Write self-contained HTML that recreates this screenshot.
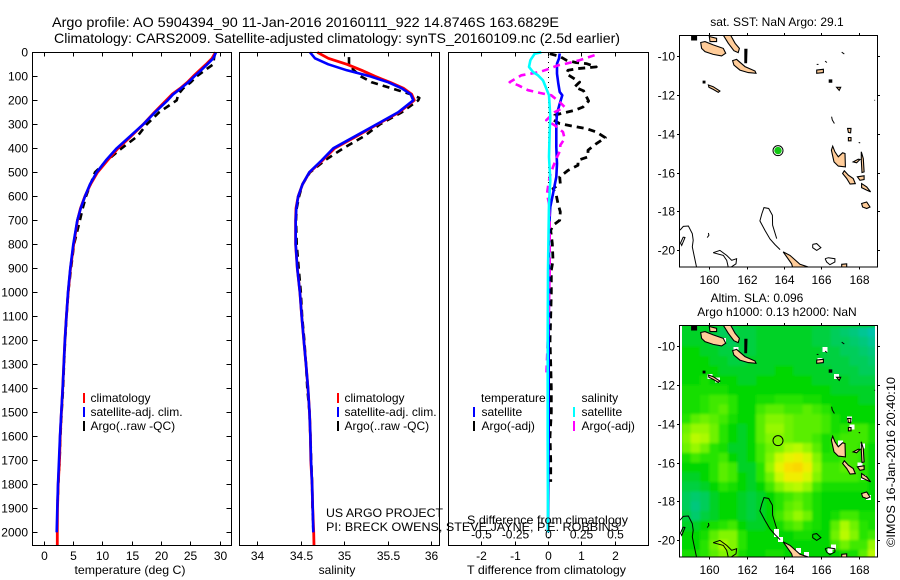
<!DOCTYPE html>
<html>
<head>
<meta charset="utf-8">
<title>Argo profile</title>
<style>
html,body{margin:0;padding:0;background:#fff;}
svg{display:block;}
text{font-family:"Liberation Sans",sans-serif;fill:#000;font-size:12px;}
.t{font-size:14px;}
.c{text-anchor:middle;}
.r{text-anchor:end;}
</style>
</head>
<body>
<svg id="chart" width="900" height="580" viewBox="0 0 900 580" xmlns="http://www.w3.org/2000/svg">
<defs>
<clipPath id="m1"><rect x="679.5" y="35.5" width="198" height="231.5"/></clipPath>
<clipPath id="m2"><rect x="679.5" y="325.5" width="198" height="231.5"/></clipPath>
<clipPath id="h2"><rect x="682" y="325.5" width="193" height="231.5"/></clipPath>
<filter id="soft" x="-5%" y="-5%" width="110%" height="110%"><feGaussianBlur stdDeviation="1.3"/></filter>
</defs>
<rect width="900" height="580" fill="#fff"/>
<text class="t" x="52" y="27" textLength="507" lengthAdjust="spacingAndGlyphs">Argo profile: AO 5904394_90 11-Jan-2016 20160111_922 14.8746S 163.6829E</text>
<text class="t" x="54" y="43" textLength="566" lengthAdjust="spacingAndGlyphs">Climatology: CARS2009. Satellite-adjusted climatology: synTS_20160109.nc (2.5d earlier)</text>

<g id="heat"></g>
<g id="lines"></g>
<g id="maps"></g>
<g id="axes"></g>

<text class="c" x="130" y="574" textLength="111" lengthAdjust="spacingAndGlyphs">temperature (deg C)</text>
<text class="c" x="337" y="574">salinity</text>
<text x="467" y="574" textLength="159" lengthAdjust="spacingAndGlyphs">T difference from climatology</text>
<text x="467" y="524" textLength="161" lengthAdjust="spacingAndGlyphs">S difference from climatology</text>
<text x="326" y="517" textLength="117" lengthAdjust="spacingAndGlyphs">US ARGO PROJECT</text>
<text x="326" y="531" textLength="293" lengthAdjust="spacingAndGlyphs">PI: BRECK OWENS, STEVE JAYNE, P.E. ROBBINS</text>

<g>
<rect x="83" y="393" width="2" height="10" fill="#f00"/>
<rect x="83" y="407" width="2" height="10" fill="#00f"/>
<rect x="83" y="421" width="2" height="10" fill="#000"/>
<text x="90.5" y="402">climatology</text>
<text x="90.5" y="416">satellite-adj. clim.</text>
<text x="90.5" y="430">Argo(..raw -QC)</text>
</g>
<g>
<rect x="337" y="393" width="2" height="10" fill="#f00"/>
<rect x="337" y="407" width="2" height="10" fill="#00f"/>
<rect x="337" y="421" width="2" height="10" fill="#000"/>
<text x="344.5" y="402">climatology</text>
<text x="344.5" y="416">satellite-adj. clim.</text>
<text x="344.5" y="430">Argo(..raw -QC)</text>
</g>
<g>
<text x="481" y="402">temperature</text>
<rect x="473" y="407" width="2" height="10" fill="#00f"/>
<rect x="473" y="421" width="2" height="10" fill="#000"/>
<text x="481.5" y="416">satellite</text>
<text x="481.5" y="430">Argo(-adj)</text>
<text x="581.5" y="402">salinity</text>
<rect x="573" y="407" width="2" height="10" fill="#0ff"/>
<rect x="573" y="421" width="2" height="10" fill="#f0f"/>
<text x="581.5" y="416">satellite</text>
<text x="581.5" y="430">Argo(-adj)</text>
</g>

<text class="c" x="777" y="26">sat. SST: NaN Argo: 29.1</text>
<text class="c" x="757" y="302">Altim. SLA: 0.096</text>
<text class="c" x="777" y="316">Argo h1000: 0.13 h2000: NaN</text>
<text transform="translate(895,547) rotate(-90)" textLength="170" lengthAdjust="spacingAndGlyphs">©IMOS 16-Jan-2016 20:40:10</text>

<script>
// ---- profile data ----
const depthsMain = [0,25,50,75,100,125,150,175,200,250,300,350,400,450,500,550,600,650,700,800,900,1000,1100,1200,1300,1400,1500,1600,1700,1800,1900,2000];
const tempSatellite = [29.39,28.93,27.9,26.83,25.7,24.67,23.42,22.1,21.15,19.0,17.0,14.74,12.47,10.65,9.06,7.92,7.07,6.33,5.76,5.08,4.57,4.17,3.9,3.65,3.45,3.27,3.03,2.81,2.64,2.47,2.35,2.25];
const depthsTempClim = [0,25,50,75,100,125,150,175,200,250,300,350,400,450,500,550,600,650,700,800,900,1000,1100,1200,1300,1400,1500,1600,1700,1800,1900,2000,2054];
const tempClimatology = [29.3,28.7,27.7,26.6,25.5,24.5,23.3,21.9,20.9,18.9,17.0,14.9,12.7,10.9,9.2,8.0,7.05,6.3,5.8,5.15,4.6,4.2,3.9,3.65,3.45,3.27,3.05,2.85,2.72,2.5,2.38,2.35,2.35];
const depthsTempArgo = [5,25,50,75,100,125,150,175,200,250,300,350,400,450,500,550,600,650,700,800,900,1000,1100,1200,1300,1400,1500,1600,1700,1800,1870];
const tempArgo = [29.2,29.05,28.93,27.5,26.1,25.07,23.8,22.96,22.7,19.7,17.6,16.0,13.3,10.87,8.77,8.0,7.24,6.68,6.2,5.2,4.68,4.2,3.92,3.68,3.5,3.34,3.08,2.88,2.74,2.52,2.42];

const salSatellite = [34.606,34.663,34.816,35.03,35.295,35.506,35.66,35.763,35.793,35.62,35.372,35.123,34.874,34.74,34.598,34.52,34.47,34.448,34.441,34.441,34.46,34.49,34.51,34.535,34.56,34.583,34.6,34.61,34.617,34.63,34.637,34.644];
const depthsSalClim = [0,25,50,75,100,125,150,175,200,250,300,350,400,450,500,550,600,650,700,800,900,1000,1100,1200,1300,1400,1500,1600,1700,1800,1900,2000,2054];
const salClimatology = [34.69,34.816,35.03,35.2,35.353,35.525,35.68,35.775,35.805,35.63,35.38,35.14,34.89,34.75,34.6,34.52,34.47,34.445,34.44,34.44,34.46,34.49,34.51,34.535,34.56,34.583,34.6,34.61,34.615,34.63,34.637,34.648,34.652];
const depthsSalArgo = [20,50,75,100,125,150,175,190,200,250,300,350,400,450,500,550,600,650,700,800,900,1000,1100,1200,1300,1400,1500,1600,1700,1800,1900,2000];
const salArgo = [35.054,35.054,35.11,35.188,35.315,35.545,35.763,35.862,35.851,35.66,35.41,35.226,34.988,34.778,34.606,34.52,34.48,34.453,34.445,34.453,34.476,34.5,34.515,34.54,34.56,34.575,34.6,34.61,34.62,34.63,34.635,34.645];

const depthsDiffTSat = [5,26,47,89,130,165,179,214,256,297,394,464,519,589,644,742,908,1200,1600,2000];
const diffTSatellite = [0.35,0.33,0.27,0.27,0.31,0.35,0.43,0.35,0.27,0.25,0.25,0.27,0.25,0.15,0.07,0.03,0.03,0.02,0.02,0.0];
const depthsDiffTArgo = [6,17,33,43,47,61,68,75,89,124,144,161,203,228,242,253,262,283,297,308,318,332,356,381,408,436,450,471,492,519,547,568,596,631,665,700,721,742,797,867,908,1000,1100,1200,1300,1400,1500,1600,1700,1790];
const diffTArgo = [0.05,0.35,0.55,0.85,1.15,1.45,0.9,0.6,0.55,0.95,0.8,1.07,1.22,1.05,0.8,0.45,0.2,0.17,0.35,0.75,1.15,1.45,1.72,1.45,1.2,1.2,0.9,0.9,0.6,0.35,0.37,0.15,0.25,0.3,0.37,0.35,0.15,0.08,0.13,0.15,0.1,0.1,0.08,0.06,0.08,0.1,0.1,0.06,0.08,0.08];
const depthsDiffSSat = [0,6,33,61,82,96,117,151,179,269,325,436,533,631,908,1200,1600,2000];
const diffSSatellite = [-0.05,-0.1,-0.1325,-0.1425,-0.1125,-0.075,-0.0375,-0.0125,0.0075,0.0175,0.0125,0.0075,0.0175,0.0075,0,-0.0025,-0.0025,0];
const depthsDiffSArgo = [12,33,47,54,68,82,96,124,137,158,169,179,207,228,249,283,304,332,360,387,408,443,478,519,561,589,631,714,908,1100,1250,1350];
const diffSArgo = [0.35,0.2375,0.1375,0.075,0.0125,-0.0625,-0.2,-0.2875,-0.225,-0.15,-0.0625,0.025,0.0875,0.125,0.05,-0.0125,0.05,0.1125,0.125,0.0925,0.0925,0.0625,0.0375,0.0125,0,-0.0075,0.0075,0.0125,0.0125,0.005,-0.005,-0.0125];

// ---- tick labels ----
const depthTicks = [0,100,200,300,400,500,600,700,800,900,1000,1100,1200,1300,1400,1500,1600,1700,1800,1900,2000];
const tempTicks = [0,5,10,15,20,25,30];
const salTicks = [34,34.5,35,35.5,36];
const diffTTicks = [-2,-1,0,1,2];
const diffSTicks = [-0.5,-0.25,0,0.25,0.5];
const lonTicks = [160,162,164,166,168];
const latTicks = [-10,-12,-14,-16,-18,-20];

// ---- SLA heatmap (cm), rows north to south from 9S in 0.5 deg steps, columns from 158.5E ----
const slaLonStart = 158.5;
const slaLatStart = -9;
const slaStep = 0.5;
const slaRows = [
[2,2,2,1,0,0,1,1,2,2,2,2,2,2,1,1,0,-1,-2,-3,-4],
[2,2,2,1,1,0,1,1,2,2,2,2,2,2,1,1,0,0,-1,-2,-3],
[3,3,2,2,1,1,1,1,2,2,2,2,2,2,2,1,1,0,0,-1,-2],
[3,3,3,2,2,1,1,2,2,2,2,2,2,2,2,1,1,1,0,0,-1],
[3,3,3,3,2,2,2,2,2,2,3,3,2,2,2,2,1,1,1,0,0],
[3,3,4,3,3,3,2,2,3,3,3,3,3,3,2,2,2,2,1,1,1],
[4,4,4,4,4,3,3,3,3,3,3,3,3,3,3,3,2,2,2,2,2],
[4,4,5,6,6,5,3,3,4,4,5,5,5,4,4,3,3,3,3,2,2],
[4,4,5,6,7,5,3,3,6,7,7,6,6,7,6,5,3,3,3,3,3],
[5,7,8,7,6,4,3,3,7,9,9,8,7,7,7,6,4,3,3,3,3],
[8,10,10,8,5,3,2,3,7,10,10,8,7,7,7,6,4,5,6,6,4],
[9,12,11,8,5,3,2,3,7,9,9,8,7,7,6,4,5,6,6,6,4],
[8,10,8,5,4,2,2,3,6,8,9,11,12,10,7,4,5,6,6,5,3],
[4,6,5,5,6,3,2,3,6,9,13,15,16,14,9,5,5,6,6,5,3],
[3,3,3,5,7,6,2,2,5,10,15,18,19,16,10,6,6,7,6,5,3],
[2,2,3,5,7,6,3,2,5,8,13,16,16,14,9,6,6,6,6,5,3],
[1,1,2,3,5,4,3,2,3,6,9,11,12,10,6,4,4,4,4,4,3],
[0,-1,0,2,3,3,2,1,2,3,5,6,7,6,4,3,3,3,3,3,3],
[0,-2,0,2,3,3,2,1,2,3,5,7,8,6,4,3,3,3,3,3,3],
[1,-1,1,2,3,3,2,1,2,3,6,8,10,8,4,3,4,6,6,4,4],
[2,2,3,4,5,6,3,2,2,3,4,6,7,5,4,3,7,11,8,5,4],
[3,3,4,7,9,9,5,3,3,3,3,3,4,4,3,3,8,12,9,5,6],
[3,3,5,8,11,9,5,3,3,3,3,3,3,3,3,3,6,8,6,6,10],
[4,4,5,7,9,8,4,3,3,4,4,3,3,3,3,3,3,4,4,7,12]
];
const slaLevels = [-4,-2,0,2,3,5,7,9,11,13,15,17,19];
const slaColours = [[0,195,170],[0,200,125],[0,205,90],[0,210,40],[0,215,0],[40,228,0],[90,238,0],[130,245,0],[170,250,0],[200,250,0],[230,245,0],[250,230,0],[250,215,0]];

// ---- geography (lon,lat) ----
const floatLon = 163.68;
const floatLat = -14.87;
const landPolygons = [
[[159.54,-9.29],[159.77,-9.24],[160.21,-9.41],[160.75,-9.59],[160.88,-9.84],[160.66,-9.98],[160.21,-9.9],[159.77,-9.76],[159.59,-9.59]],
[[160.75,-8.91],[161.14,-8.91],[161.38,-9.33],[161.61,-9.59],[161.55,-9.81],[161.32,-9.71],[161.02,-9.33]],
[[161.25,-10.22],[161.46,-10.16],[161.91,-10.53],[162.45,-10.76],[162.5,-10.88],[162.09,-10.84],[161.64,-10.71],[161.32,-10.45]],
[[160,-8.98],[160.39,-9.07],[160.39,-9.24],[160.04,-9.24]],
[[159.95,-11.48],[160.21,-11.57],[160.57,-11.79],[160.48,-11.86],[160.21,-11.71],[159.98,-11.6]],
[[166.61,-14.64],[166.73,-14.93],[166.91,-15.19],[167.14,-14.98],[167.27,-15.02],[167.29,-15.71],[166.91,-15.67],[166.68,-15.45],[166.54,-14.84]],
[[167.23,-15.91],[167.45,-16.14],[167.71,-16.31],[167.82,-16.57],[167.54,-16.6],[167.36,-16.31],[167.14,-16.05]],
[[167.93,-16.22],[168.29,-16.17],[168.29,-16.36],[168.07,-16.4]],
[[167.71,-15.45],[167.98,-15.31],[168.07,-15.33],[167.89,-15.5]],
[[168.14,-14.93],[168.25,-15.28],[168.29,-15.97],[168.18,-16],[168.14,-15.36]],
[[168.16,-17.6],[168.43,-17.52],[168.61,-17.78],[168.43,-17.86],[168.21,-17.78]],
[[168.16,-16.57],[168.43,-16.74],[168.64,-17],[168.43,-16.91],[168.16,-16.78]],
[[163.96,-20.1],[164.32,-20.28],[164.86,-20.74],[165.3,-20.88],[164.5,-21],[164.41,-20.71]],
[[167.09,-20.74],[167.36,-20.71],[167.36,-21],[167.09,-21]],
[[165.75,-10.71],[166.11,-10.67],[166.11,-10.84],[165.75,-10.88]],
[[166.82,-11.6],[167.04,-11.6],[166.96,-11.76]],
[[167.41,-13.72],[167.59,-13.72],[167.57,-13.95],[167.45,-13.93]],
[[167.45,-14.19],[167.59,-14.19],[167.59,-14.36],[167.45,-14.36]]
];
const blackIslets = [
[[159.05,-8.98],[159.32,-8.98],[159.32,-9.16],[159.05,-9.16]],
[[161.9,-9.64],[162.02,-9.64],[162,-10.33],[161.9,-10.33]],
[[159.67,-11.28],[159.77,-11.28],[159.77,-11.38],[159.67,-11.38]],
[[166.42,-11.22],[166.56,-11.22],[166.56,-11.34],[166.42,-11.34]]
];
const reefLines = [
[[163.61,-19.41],[163.39,-18.72],[163.38,-18.21],[163.18,-17.86],[162.93,-17.81],[162.82,-18.12],[162.71,-18.5],[162.98,-18.98],[163.25,-19.43],[163.52,-19.72],[163.79,-19.98]],
[[158.43,-18.98],[158.61,-18.78],[158.88,-18.76],[159.09,-19.16],[159.14,-19.5],[159.09,-19.84],[159.2,-20.36],[159.32,-20.9]],
[[158.61,-19.33],[158.7,-19.36],[158.52,-19.76],[158.46,-19.64],[158.61,-19.33]],
[[160.21,-20.14],[160.57,-20.02],[160.93,-20.28],[161.2,-20.53],[161.46,-20.45],[161.43,-20.71],[161.14,-20.9]],
[[160.21,-20.14],[160.75,-20.28],[160.93,-20.53],[161.02,-20.9]],
[[165.54,-19.71],[165.75,-19.67],[165.98,-19.88],[165.75,-20.02],[165.54,-19.88],[165.54,-19.71]],
[[166.2,-20.45],[166.38,-20.4],[166.73,-20.45],[166.73,-20.62],[166.46,-20.76],[166.29,-20.62],[166.2,-20.45]],
[[166.55,-13.12],[166.59,-13.29],[166.7,-13.47]],
[[167.09,-9.79],[167.23,-9.88]],
[[159.95,-19.12],[159.98,-19.24],[159.89,-19.36]],
[[168.85,-12.25],[168.87,-12.28]],
[[168.0,-14.45],[168.08,-14.47]],
[[165.75,-10.42],[165.85,-10.42]],
[[166.2,-10.25],[166.3,-10.32]]
];
const missingCells = [[160.75,-9.71],[161.43,-10.16],[166.2,-10.16],[165.93,-10.74],[166.82,-11.57],[160.04,-11.57],[160.43,-11.74],[167.5,-13.76],[167.64,-14.16],[167.04,-14.98],[168.2,-15.16],[168.07,-16.14],[168.25,-16.78],[168.52,-17.81],[163.61,-19.72],[163.61,-19.55],[163.82,-19.98],[164.77,-20.53],[165.21,-20.76],[166.46,-20.53],[166.64,-20.36]];

// ---- axis functions ----
const yDepth = d => 52.3 + 0.24 * d;
const xTemp = t => 43.5 + 5.87 * t;
const xSal = s => 257.3 + 87 * (s - 34);
const xDiffT = v => 548 + 33.3 * v;
const xDiffS = v => 548 + 133.2 * v;
const xLon = l => 709.3 + 18.67 * (l - 160);
const yLat1 = l => 56.3 + 19.37 * (-10 - l);
const yLat2 = l => 346.3 + 19.37 * (-10 - l);

const NS = 'http://www.w3.org/2000/svg';
function make(tag, parent, attrs) {
  const e = document.createElementNS(NS, tag);
  for (const k in attrs) e.setAttribute(k, attrs[k]);
  parent.appendChild(e);
  return e;
}
const linesG = document.getElementById('lines');
const axesG = document.getElementById('axes');
const heatG = document.getElementById('heat');
const mapsG = document.getElementById('maps');

function drawProfile(name, depths, values, xf, colour, dash, width) {
  const pts = depths.map((d, i) => xf(values[i]).toFixed(1) + ',' + yDepth(d).toFixed(1)).join(' ');
  const attrs = {points: pts, fill: 'none', stroke: colour, 'stroke-width': width, 'stroke-linejoin': 'round'};
  if (dash) attrs['stroke-dasharray'] = dash;
  const p = make('polyline', linesG, attrs);
  
  
}
drawProfile('temperature-argo-line', depthsTempArgo, tempArgo, xTemp, '#000', '7 5', 2.6);
drawProfile('temperature-climatology-line', depthsTempClim, tempClimatology, xTemp, '#f00', null, 2.8);
drawProfile('temperature-satellite-line', depthsMain, tempSatellite, xTemp, '#00f', null, 2.6);
drawProfile('salinity-argo-line', depthsSalArgo, salArgo, xSal, '#000', '7 5', 2.6);
drawProfile('salinity-climatology-line', depthsSalClim, salClimatology, xSal, '#f00', null, 2.8);
drawProfile('salinity-satellite-line', depthsMain, salSatellite, xSal, '#00f', null, 2.6);

const zeroLine = make('line', linesG, {x1: 548.5, x2: 548.5, y1: 52, y2: 545, stroke: '#000', 'stroke-width': 1, 'stroke-dasharray': '1 4'});



drawProfile('t-difference-argo-line', depthsDiffTArgo, diffTArgo, xDiffT, '#000', '7 5', 2.8);
drawProfile('t-difference-satellite-line', depthsDiffTSat, diffTSatellite, xDiffT, '#00f', null, 2.6);
drawProfile('s-difference-argo-line', depthsDiffSArgo, diffSArgo, xDiffS, '#f0f', '7 5', 2.6);
drawProfile('s-difference-satellite-line', depthsDiffSSat, diffSSatellite, xDiffS, '#0ff', null, 2.6);

// ---- panel frames, ticks, labels ----
function frame(name, x, y, w, h) {
  const r = make('rect', axesG, {x: x, y: y, width: w, height: h, fill: 'none', stroke: '#000', 'stroke-width': 1, 'shape-rendering': 'crispEdges'});
  
  
}
function tick(x1, y1, x2, y2) {
  const l = make('line', axesG, {x1: x1, y1: y1, x2: x2, y2: y2, stroke: '#000', 'stroke-width': 1, 'shape-rendering': 'crispEdges'});
  
  
}
function label(str, x, y, anchor, name) {
  const t = make('text', axesG, {x: x, y: y, 'text-anchor': anchor});
  t.textContent = str;
  
  
}
frame('temperature-panel-frame', 32.5, 52.5, 199, 493);
frame('salinity-panel-frame', 239.5, 52.5, 200, 493);
frame('difference-panel-frame', 448.5, 52.5, 200, 493);

depthTicks.forEach(d => {
  const y = Math.round(yDepth(d)) + 0.5;
  tick(32.5, y, 37.5, y);
  tick(226.5, y, 231.5, y);
  label(String(d), 28, y + 4, 'end', 'depth-tick-label');
});
tempTicks.forEach(t => {
  const x = Math.round(xTemp(t)) + 0.5;
  tick(x, 52.5, x, 56.5);
  tick(x, 541.5, x, 545.5);
  label(String(t), x, 560, 'middle', 'temperature-tick-label');
});
salTicks.forEach(s => {
  const x = Math.round(xSal(s)) + 0.5;
  tick(x, 52.5, x, 56.5);
  tick(x, 541.5, x, 545.5);
  label(String(s), x, 560, 'middle', 'salinity-tick-label');
});
diffTTicks.forEach(v => {
  const x = Math.round(xDiffT(v)) + 0.5;
  tick(x, 541.5, x, 545.5);
  label(String(v), x, 560, 'middle', 't-difference-tick-label');
});
diffSTicks.forEach(v => {
  const x = Math.round(xDiffS(v)) + 0.5;
  tick(x, 52.5, x, 56.5);
  label(String(v), x, 538.5, 'middle', 's-difference-tick-label');
});

// ---- heatmap ----
function slaColour(v) {
  let i = 0;
  while (i < slaLevels.length - 2 && v > slaLevels[i + 1]) i++;
  const f = Math.max(0, Math.min(1, (v - slaLevels[i]) / (slaLevels[i + 1] - slaLevels[i])));
  const a = slaColours[i], b = slaColours[i + 1];
  return 'rgb(' + a.map((c, k) => Math.round(c + (b[k] - c) * f)).join(',') + ')';
}
const heatClip = make('g', heatG, {'clip-path': 'url(#h2)'});
const heatBase = make('rect', heatClip, {x: 682, y: 325, width: 193, height: 232, fill: 'rgb(0,212,30)'});


const heatCells = make('g', heatClip, {filter: 'url(#soft)'});
slaRows.forEach((row, r) => {
  row.forEach((v, c) => {
    const lon = slaLonStart + c * slaStep;
    const lat = slaLatStart - r * slaStep;
    const x0 = xLon(lon), x1 = xLon(lon + slaStep);
    const y0 = yLat2(lat), y1 = yLat2(lat - slaStep);
    const cell = make('rect', heatCells, {x: x0.toFixed(2), y: y0.toFixed(2), width: (x1 - x0 + 0.5).toFixed(2), height: (y1 - y0 + 0.5).toFixed(2), fill: slaColour(v)});
    
    
  });
});
missingCells.forEach(m => {
  const w = make('rect', heatClip, {x: (xLon(m[0]) - 2.5).toFixed(1), y: (yLat2(m[1]) - 2.5).toFixed(1), width: 5, height: 5, fill: '#fff', 'shape-rendering': 'crispEdges'});
  
  
});

// ---- maps ----
function drawMap(clipId, yf, prefix) {
  const g = make('g', mapsG, {'clip-path': 'url(#' + clipId + ')'});
  
  
  landPolygons.forEach(poly => {
    const pts = poly.map(p => xLon(p[0]).toFixed(1) + ',' + yf(p[1]).toFixed(1)).join(' ');
    const s = make('polygon', g, {points: pts, fill: '#ffcc99', stroke: '#000', 'stroke-width': 1.1});
    
    
  });
  blackIslets.forEach(poly => {
    const pts = poly.map(p => xLon(p[0]).toFixed(1) + ',' + yf(p[1]).toFixed(1)).join(' ');
    const s = make('polygon', g, {points: pts, fill: '#000', stroke: '#000', 'stroke-width': 1});
    
    
  });
  reefLines.forEach(line => {
    const pts = line.map(p => xLon(p[0]).toFixed(1) + ',' + yf(p[1]).toFixed(1)).join(' ');
    const s = make('polyline', g, {points: pts, fill: 'none', stroke: '#000', 'stroke-width': 1});
    
    
  });
}
drawMap('m1', yLat1, 'sst-map');
drawMap('m2', yLat2, 'sla-map');

const ring1 = make('circle', mapsG, {cx: xLon(floatLon), cy: yLat1(floatLat), r: 5, fill: '#fff', stroke: '#000', 'stroke-width': 1});


const dot1 = make('circle', mapsG, {cx: xLon(floatLon), cy: yLat1(floatLat), r: 3.7, fill: '#14c814'});


const ring2 = make('circle', mapsG, {cx: xLon(floatLon), cy: yLat2(floatLat), r: 5, fill: 'none', stroke: '#000', 'stroke-width': 1});



function mapAxes(name, yf, top, bottom, labelY) {
  frame(name + '-frame', 679.5, top, 198, bottom - top);
  lonTicks.forEach(l => {
    const x = Math.round(xLon(l)) + 0.5;
    tick(x, top - 2.5, x, top);
    tick(x, bottom, x, bottom + 2.5);
    label(String(l), x, labelY, 'middle', 'longitude-tick-label');
  });
  latTicks.forEach(l => {
    const y = Math.round(yf(l)) + 0.5;
    tick(677, y, 679.5, y);
    tick(877.5, y, 880, y);
    label(String(l), 675, y + 4, 'end', 'latitude-tick-label');
  });
}
mapAxes('sst-map', yLat1, 35.5, 267, 284);
mapAxes('sla-map', yLat2, 325.5, 557, 574);
</script>
</svg>
</body>
</html>
